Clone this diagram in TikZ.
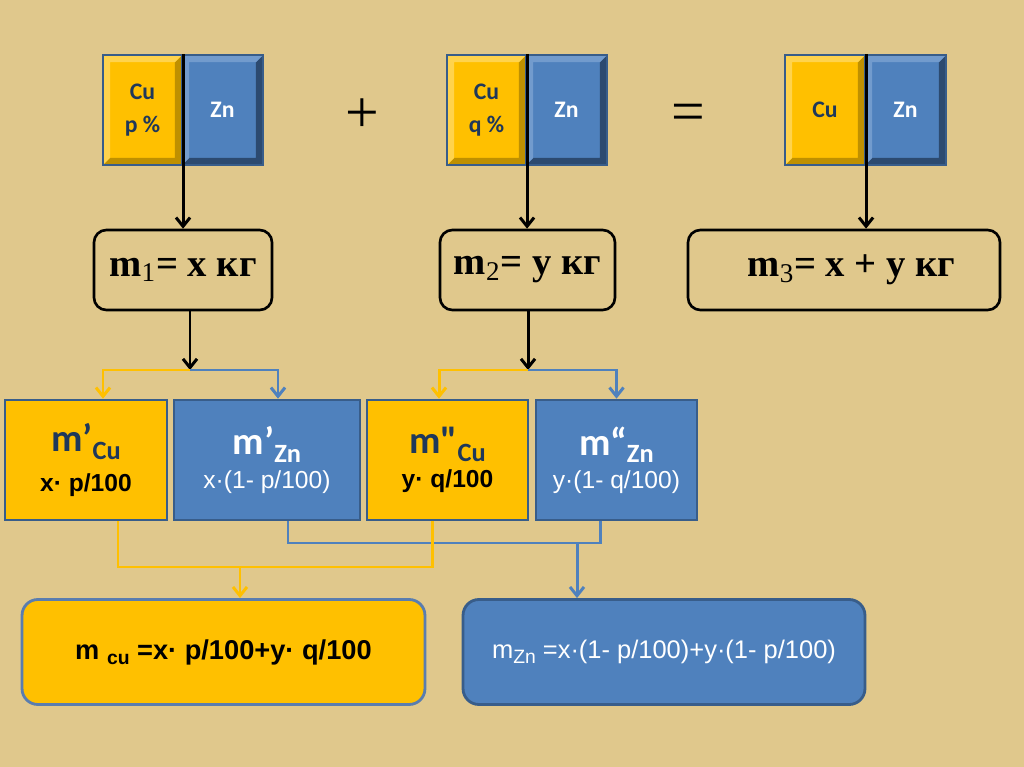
\documentclass[tikz,border=0pt]{standalone}
\usepackage{fontspec}
\usepackage{tikz}
\usetikzlibrary{arrows.meta,positioning}
\setmainfont{Liberation Serif}
\newfontfamily\calibri{Carlito}
\newfontfamily\arial{Liberation Sans}
\newcommand\PxUnit{0.02cm}
\definecolor{paper}{RGB}{224,200,140}
\definecolor{cugold}{RGB}{255,192,0}
\definecolor{cudark}{RGB}{191,144,0}
\definecolor{culight}{RGB}{255,211,77}
\definecolor{znblue}{RGB}{79,129,189}
\definecolor{zndark}{RGB}{44,74,112}
\definecolor{znlight}{RGB}{114,155,205}
\definecolor{frame}{RGB}{56,93,138}
\definecolor{cuframe}{RGB}{90,125,175}
\definecolor{navy}{RGB}{31,56,90}
\tikzset{
  bevel/.style 2 args={
    path picture={
      \fill[#1] (path picture bounding box.south west) -- (path picture bounding box.south east)
        -- (path picture bounding box.north east) -- ([shift={(-4pt,-4pt)}]path picture bounding box.north east)
        -- ([shift={(-4pt,4pt)}]path picture bounding box.south east) -- ([shift={(4pt,4pt)}]path picture bounding box.south west) -- cycle;
      \fill[#2] (path picture bounding box.south west) -- (path picture bounding box.north west)
        -- (path picture bounding box.north east) -- ([shift={(-4pt,-4pt)}]path picture bounding box.north east)
        -- ([shift={(4pt,-4pt)}]path picture bounding box.north west) -- ([shift={(4pt,4pt)}]path picture bounding box.south west) -- cycle;
    }
  },
}
\tikzset{
  alloy/.style={
    shape = rectangle,
    minimum height = 2.2cm,
    inner sep = 0pt,
    draw = frame,
    line width = 1.2pt,
    font = \calibri\bfseries\fontsize{13.5}{19}\selectfont,
    align = center
  },
  cubox/.style={alloy, fill = cugold, text = navy, bevel = {cudark}{culight}},
  znbox/.style={alloy, fill = znblue, text = white, bevel = {zndark}{znlight}},
  sign/.style={
    font = \fontsize{34}{34}\selectfont
  },
}
\tikzset{
  mass/.style={
    shape = rectangle,
    rounded corners = 7pt,
    draw,
    line width = 1.5pt,
    minimum height = 1.6cm,
    font = \bfseries\fontsize{22}{26}\selectfont
  },
  part/.style={
    shape = rectangle,
    draw = frame,
    line width = 1.5pt,
    minimum height = 2.4cm,
    inner sep = 0pt,
    align = center,
    font = \fontsize{14}{19}\selectfont
  },
  partcu/.style={part, fill = cugold},
  partzn/.style={part, fill = znblue, text = white},
  total/.style={
    shape = rectangle,
    rounded corners = 9pt,
    line width = 1.6pt,
    minimum height = 2.1cm
  },
  totalcu/.style={total, fill = cugold, draw = cuframe, font = \arial\bfseries\fontsize{15.5}{18}\selectfont},
  totalzn/.style={total, fill = znblue, draw = frame, text = white, font = \arial\fontsize{14.5}{17}\selectfont},
  feed/.style={line width = 1.7pt, -{Straight Barb[length=5pt,width=8pt]}},
  yline/.style={line width = 1.7pt, draw = cugold},
  bline/.style={line width = 1.7pt, draw = znblue},
}
\newcommand\MBig{\calibri\bfseries\fontsize{22}{24}\selectfont}
\newcommand\MSub[1]{\raisebox{-4.5pt}{\fontsize{15}{15}\selectfont #1}}
\newcommand\TSub[1]{\raisebox{-3pt}{\fontsize{11}{11}\selectfont #1}}

\begin{document}
\begin{tikzpicture}[x=\PxUnit, y=-\PxUnit]
    \fill[paper] (0,0) rectangle (1024,767);

    % alloys
    \node[cubox, minimum width=1.58cm] (cuA) at (142.5,110) {Cu\\p \%};
    \node[znbox, minimum width=1.62cm] (znA) at (222.5,110) {Zn};
    \node[sign] (plus) at (362,116) {+};
    \node[cubox, minimum width=1.58cm] (cuB) at (486.5,110) {Cu\\q \%};
    \node[znbox, minimum width=1.62cm] (znB) at (566.5,110) {Zn};
    \node[sign] (eq) at (688,118) {=};
    \node[cubox, minimum width=1.60cm] (cuC) at (825,110) {Cu};
    \node[znbox, minimum width=1.62cm] (znC) at (905.5,110) {Zn};

    % masses
    \node[mass, minimum width=3.56cm] (mA) at (183,270) {m\textsubscript{\mdseries 1}= x кг};
    \node[mass, minimum width=3.50cm] (mB) at (527.5,270) {m\textsubscript{\mdseries 2}= y кг};
    \node[mass, minimum width=6.24cm] (mC) at (844,270) {\hspace{0.3cm}m\textsubscript{\mdseries 3}= x + y кг};

    \draw[feed] (cuA.north east) -- (cuA.north east |- mA.north);
    \draw[feed] (cuB.north east) -- (cuB.north east |- mB.north);
    \draw[feed] (cuC.north east) -- (cuC.north east |- mC.north);

    % parts
    \node[partcu, minimum width=3.24cm] (cuP) at (86,460)
        {{\MBig\color{navy}m’\MSub{Cu}}\\[4pt]{\arial\bfseries x· p/100}};
    \node[partzn, minimum width=3.72cm] (znP) at (267,460)
        {{\MBig m’\MSub{Zn}}\\{\arial x·(1- p/100)}};
    \node[partcu, minimum width=3.22cm] (cuPP) at (447.5,460)
        {{\MBig\color{navy}m"\MSub{Cu}}\\{\arial\bfseries y· q/100}};
    \node[partzn, minimum width=3.22cm] (znPP) at (616.5,460)
        {{\MBig m“\MSub{Zn}}\\{\arial y·(1- q/100)}};

    \coordinate (splitA) at (190,370);
    \coordinate (splitB) at (528,370);
    \draw[feed] (mA.south -| splitA) -- (splitA);
    \draw[feed] (mB.south -| splitB) -- (splitB);
    \draw[feed, yline] (splitA) -| ([xshift=0.34cm]cuP.north);
    \draw[feed, bline] (splitA) -| ([xshift=0.22cm]znP.north);
    \draw[feed, yline] (splitB) -| ([xshift=-0.17cm]cuPP.north);
    \draw[feed, bline] (splitB) -| (znPP.north);

    % totals
    \node[totalcu, minimum width=8.06cm] (cuT) at (223.5,652)
        {m \TSub{cu} =x· p/100+y· q/100};
    \node[totalzn, minimum width=8.04cm] (znT) at (664,652)
        {m\TSub{Zn} =x·(1- p/100)+y·(1- p/100)};

    \coordinate (joinCu) at (240,567);
    \coordinate (joinZn) at (577,543);
    \draw[bline] ([xshift=0.42cm]znP.south) |- (joinZn) -| ([xshift=-0.33cm]znPP.south);
    \draw[yline] ([xshift=0.64cm]cuP.south) |- (joinCu) -| ([xshift=-0.31cm]cuPP.south);
    \draw[feed, yline] (joinCu) -- (joinCu |- cuT.north);
    \draw[feed, bline] (joinZn) -- (joinZn |- znT.north);
\end{tikzpicture}
\end{document}
